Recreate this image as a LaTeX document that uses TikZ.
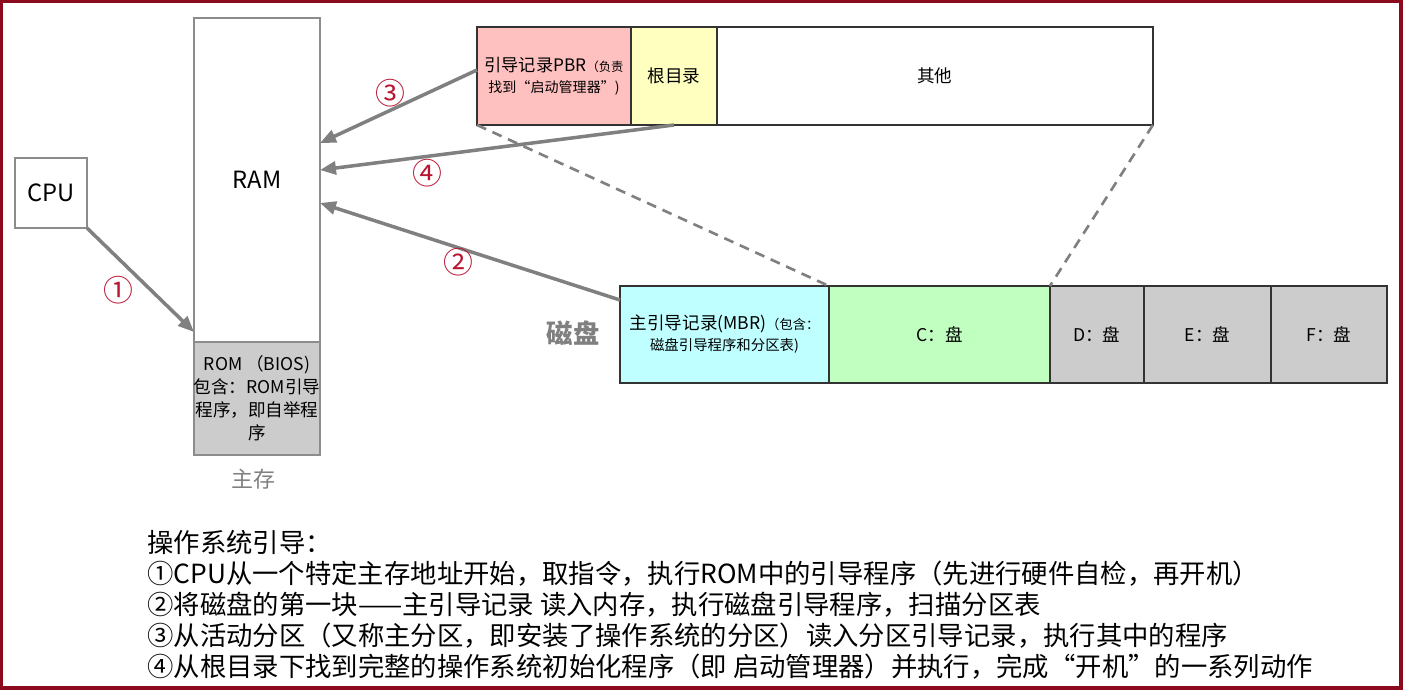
\documentclass[tikz,border=0pt]{standalone}
\usepackage{fontspec}
\setmainfont{Noto Sans CJK SC}
\usetikzlibrary{positioning, calc, arrows.meta}
\definecolor{Frame}{HTML}{8B0A1E}
\definecolor{Arrow}{HTML}{808080}
\definecolor{Edge}{HTML}{8C8C8C}
\definecolor{Strip}{HTML}{333333}
\definecolor{Pbr}{HTML}{FFC0C0}
\definecolor{Root}{HTML}{FFFFC0}
\definecolor{Mbr}{HTML}{C0FFFF}
\definecolor{Cdisk}{HTML}{C0FFC0}
\definecolor{Rom}{HTML}{CCCCCC}
\definecolor{StepRed}{HTML}{B81530}
\tikzset{
    memnode/.style={rectangle, draw=Edge, line width=0.8pt, align=center, inner sep=0pt, outer sep=0pt, font=\fontsize{13.5}{16}\selectfont},
    disknode/.style={rectangle, draw=Strip, line width=0.8pt, align=center, inner sep=0pt, outer sep=0pt, font=\fontsize{10}{12}\selectfont},
    arrow/.style={-{Triangle[length=0.32cm, width=0.26cm]}, line width=2pt, color=Arrow},
    zoomline/.style={dash pattern=on 0.2cm off 0.14cm, line width=1.5pt, color=Arrow},
    stepnum/.style={text=StepRed, font=\fontsize{17}{19}\selectfont, inner sep=0pt},
}

\begin{document}
\begin{tikzpicture}[x=0.02cm, y=-0.02cm]
    \useasboundingbox (0,0) rectangle (1404,691);
    % Cornice
    \draw[Frame, line width=0.07cm] (1.5,1.5) rectangle (1401,688);

    % CPU e memoria principale
    \node[memnode, minimum width=1.44cm, minimum height=1.40cm] (cpu) at (51,193) {CPU};
    \node[memnode, minimum width=2.52cm, minimum height=6.48cm] (ram) at (257,180) {RAM};
    \node[memnode, fill=Rom, minimum width=2.52cm, minimum height=2.26cm, below=0pt of ram, font=\fontsize{10}{13}\selectfont] (rom) {ROM （BIOS)\\包含：ROM引导\\程序，即自举程\\序};
    \node[text=Arrow, font=\fontsize{12.5}{14}\selectfont] (mainmem) at (253,479) {主存};

    % Partizione attiva
    \node[disknode, fill=Pbr, minimum width=3.08cm, minimum height=1.96cm, font=\fontsize{9.8}{12}\selectfont] (pbr) at (554,76) {引导记录PBR{\fontsize{7}{8}\selectfont （负责}\\{\fontsize{8}{9}\selectfont 找到“启动管理器”)}};
    \node[disknode, fill=Root, minimum width=1.72cm, minimum height=1.96cm, right=0pt of pbr] (root) {根目录};
    \node[disknode, minimum width=8.72cm, minimum height=1.96cm, right=0pt of root] (other) {其他};

    % Disco e partizioni
    \node[disknode, fill=Mbr, minimum width=4.18cm, minimum height=1.94cm, font=\fontsize{10}{12}\selectfont] (mbr) at (724.5,334.5) {主引导记录(MBR){\fontsize{7.5}{8}\selectfont （包含：}\\{\fontsize{8.2}{9}\selectfont 磁盘引导程序和分区表)}};
    \node[disknode, fill=Cdisk, minimum width=4.42cm, minimum height=1.94cm, right=0pt of mbr] (cdisk) {C：盘};
    \node[disknode, fill=Rom, minimum width=1.88cm, minimum height=1.94cm, right=0pt of cdisk] (ddisk) {D：盘};
    \node[disknode, fill=Rom, minimum width=2.54cm, minimum height=1.94cm, right=0pt of ddisk] (edisk) {E：盘};
    \node[disknode, fill=Rom, minimum width=2.32cm, minimum height=1.94cm, right=0pt of edisk] (fdisk) {F：盘};
    \node[text=Arrow, font=\bfseries\fontsize{15}{17}\selectfont] (disk) at (573,333) {磁盘};

    % Linee di ingrandimento
    \draw[zoomline] (pbr.south west) -- (cdisk.north west);
    \draw[zoomline] (other.south east) -- (cdisk.north east);

    % Frecce dei passi
    \draw[arrow] (cpu.south east) -- ([yshift=0.2cm]ram.south west);
    \draw[arrow] ([yshift=-0.28cm]mbr.north west) -- ([yshift=-0.46cm]ram.east);
    \draw[arrow] ([yshift=0.12cm]pbr.west) -- ([yshift=0.74cm]ram.east);
    \draw[arrow] (root.south) -- ([yshift=0.2cm]ram.east);
    \node[stepnum] (n1) at (118,290) {①};
    \node[stepnum] (n2) at (458,262) {②};
    \node[stepnum] (n3) at (390,93) {③};
    \node[stepnum] (n4) at (427,173) {④};

    % Testo
    \node[anchor=west, align=left, inner sep=0pt, font=\fontsize{15}{17.6}\selectfont] (notes) at (147,605) {操作系统引导：\\①CPU从一个特定主存地址开始，取指令，执行ROM中的引导程序（先进行硬件自检，再开机）\\②将磁盘的第一块——主引导记录 读入内存，执行磁盘引导程序，扫描分区表\\③从活动分区（又称主分区，即安装了操作系统的分区）读入分区引导记录，执行其中的程序\\④从根目录下找到完整的操作系统初始化程序（即 启动管理器）并执行，完成“开机”的一系列动作};
\end{tikzpicture}
\end{document}
